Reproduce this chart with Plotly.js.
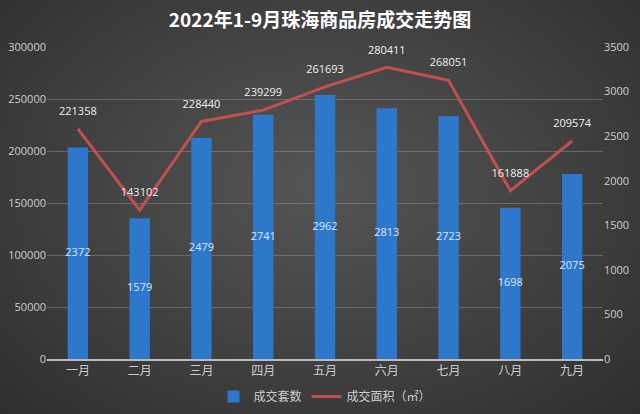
<!DOCTYPE html>
<html><head><meta charset="utf-8">
<script src="https://cdn.plot.ly/plotly-3.0.1.min.js"></script>
<style>
html,body{margin:0;padding:0;}
body{width:640px;height:414px;background:radial-gradient(ellipse at 50% 45%, #555555 0%, #444444 45%, #2e2e2e 100%);}
#chart{width:640px;height:414px;}
</style></head>
<body><div id="chart"></div>
<script>
const months = ['一月','二月','三月','四月','五月','六月','七月','八月','九月'];
const units = [2372,1579,2479,2741,2962,2813,2723,1698,2075];
const area = [221358,143102,228440,239299,261693,280411,268051,161888,209574];
const unitsName = '成交套数';
const areaName = '成交面积（㎡）';
const titleText = '2022年1-9月珠海商品房成交走势图';

const font = '"Open Sans", "Noto Sans CJK SC", sans-serif';
const cjk = '"Noto Sans CJK SC", sans-serif';

const traces = [
  {type:'bar', name:unitsName, x:months, y:units, yaxis:'y',
   marker:{color:'#2E78CC'}, width:0.33, textposition:'none', hoverinfo:'skip'},
  {type:'scatter', mode:'text', x:months, y:units.map(v => v/2), yaxis:'y',
   text:units.map(String), textposition:'middle center', showlegend:false,
   textfont:{color:'#dbe7ff', size:11, family:font}, cliponaxis:false},
  {type:'scatter', mode:'lines+markers+text', name:areaName, x:months, y:area, yaxis:'y2',
   line:{color:'#C0504D', width:3}, marker:{size:16, color:'rgba(0,0,0,0)'},
   text:area.map(String), textposition:'top center',
   textfont:{color:'#eeeeee', size:11, family:font}, cliponaxis:false}
];

const layout = {
  width:640, height:414,
  paper_bgcolor:'rgba(0,0,0,0)', plot_bgcolor:'rgba(0,0,0,0)',
  margin:{l:47, r:37, t:47, b:55},
  title:{text:'<b>'+titleText+'</b>', x:0.5, xanchor:'center', y:0.952, yanchor:'middle',
         font:{color:'#ffffff', size:19, family:cjk}},
  showlegend:true,
  legend:{orientation:'h', x:0.5, xanchor:'center', yref:'container', y:0.042, yanchor:'middle',
          font:{color:'#cccccc', size:12, family:cjk}, bgcolor:'rgba(0,0,0,0)',
          traceorder:'normal', itemwidth:30},
  xaxis:{type:'category', range:[-0.5, months.length - 0.5], autorange:false,
         tickfont:{color:'#cccccc', size:12, family:cjk},
         showgrid:false, showline:true, linecolor:'#bbbbbb', linewidth:1.5, ticks:'', ticklen:0},
  yaxis:{side:'right', range:[0,3500], dtick:500, showgrid:false, zeroline:false,
         tickfont:{color:'#cccccc', size:11, family:font}, ticks:'', tickformat:'d'},
  yaxis2:{side:'left', overlaying:'y', range:[0,300000], dtick:50000, showgrid:true,
          gridcolor:'rgba(150,150,150,0.45)', gridwidth:1, zeroline:false,
          tickfont:{color:'#cccccc', size:11, family:font}, ticks:'', tickformat:'d'},
  bargap:0.67
};
Plotly.newPlot('chart', traces, layout, {displayModeBar:false, staticPlot:true});
</script></body></html>
